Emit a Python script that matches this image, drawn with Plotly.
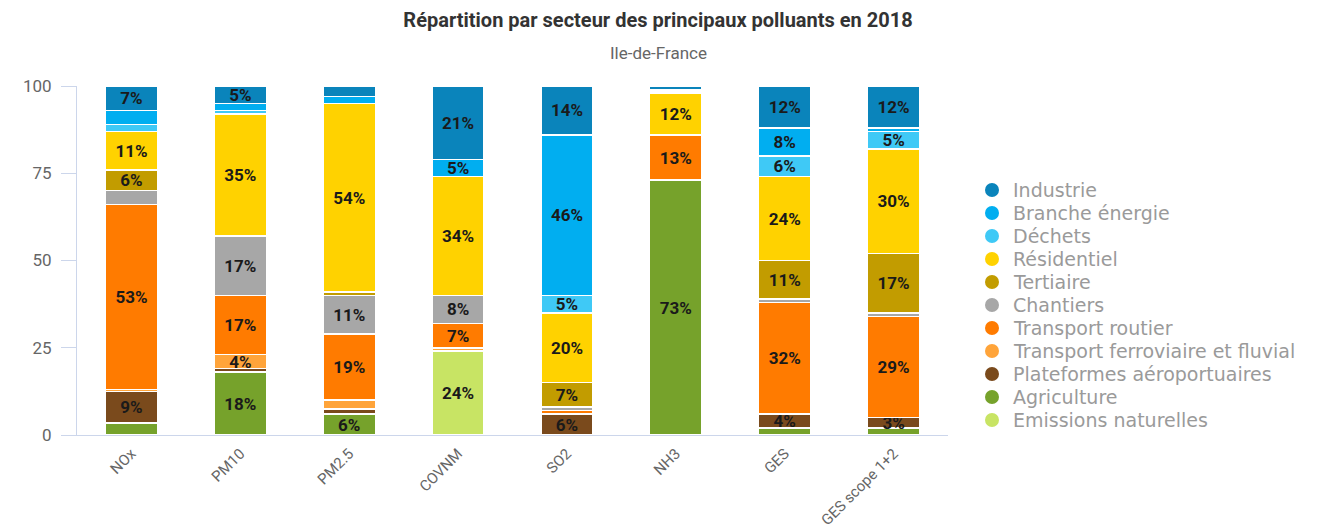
import plotly.graph_objects as go

# Pollutants (x categories)
categories = ["NOx", "PM10", "PM2.5", "COVNM", "SO2", "NH3", "GES", "GES scope 1+2"]
tick_labels = ["NOx", "PM10", "PM2.5", "COVNM", "SO2", "NH3", "GES", "GES scope 1+2"]

# Share of each sector (%), per pollutant
industrie = [7, 5, 3, 21, 14, 1, 12, 12]
branche_energie = [4, 2, 2, 5, 46, 0.5, 8, 1]
dechets = [2, 1, 0, 0, 5, 0.5, 6, 5]
residentiel = [11, 35, 54, 34, 20, 12, 24, 30]
tertiaire = [6, 0, 1, 0, 7, 0, 11, 17]
chantiers = [4, 17, 11, 8, 1, 0, 1, 1]
transport_routier = [53, 17, 19, 7, 1, 13, 32, 29]
transport_ferro = [0.5, 4, 2.5, 1, 0, 0, 0, 0]
plateformes = [9, 1, 1.5, 0, 6, 0, 4, 3]
agriculture = [3.5, 18, 6, 0, 0, 73, 2, 2]
emissions_nat = [0, 0, 0, 24, 0, 0, 0, 0]

# Which segments carry a percentage label (1 = shown)
lbl_industrie = [1, 1, 0, 1, 1, 0, 1, 1]
lbl_branche = [0, 0, 0, 1, 1, 0, 1, 0]
lbl_dechets = [0, 0, 0, 0, 1, 0, 1, 1]
lbl_residentiel = [1, 1, 1, 1, 1, 1, 1, 1]
lbl_tertiaire = [1, 0, 0, 0, 1, 0, 1, 1]
lbl_chantiers = [0, 1, 1, 1, 0, 0, 0, 0]
lbl_routier = [1, 1, 1, 1, 0, 1, 1, 1]
lbl_ferro = [0, 1, 0, 0, 0, 0, 0, 0]
lbl_plateformes = [1, 0, 0, 0, 1, 0, 1, 1]
lbl_agriculture = [0, 1, 1, 0, 0, 1, 0, 0]
lbl_emissions = [0, 0, 0, 1, 0, 0, 0, 0]

# Legend order (top to bottom): name, values, colour, label flags
sectors = [
    ("Industrie", industrie, "#0a84bb", lbl_industrie),
    ("Branche énergie", branche_energie, "#01aef0", lbl_branche),
    ("Déchets", dechets, "#3fc9f6", lbl_dechets),
    ("Résidentiel", residentiel, "#ffd200", lbl_residentiel),
    ("Tertiaire", tertiaire, "#c29c00", lbl_tertiaire),
    ("Chantiers", chantiers, "#a7a7a7", lbl_chantiers),
    ("Transport routier", transport_routier, "#ff7b00", lbl_routier),
    ("Transport ferroviaire et fluvial", transport_ferro, "#ffa43a", lbl_ferro),
    ("Plateformes aéroportuaires", plateformes, "#7a4a1c", lbl_plateformes),
    ("Agriculture", agriculture, "#76a22b", lbl_agriculture),
    ("Emissions naturelles", emissions_nat, "#c8e464", lbl_emissions),
]

LABEL_FONT = "Roboto"
W, H = 1328, 531
M_L, M_R, M_T, M_B = 77, 380, 86, 96
PLOT_W = W - M_L - M_R
PLOT_H = H - M_T - M_B

fig = go.Figure()

# Stacked bars: bottom of the stack is the last sector of the legend
for name, vals, color, flags in reversed(sectors):
    texts = [f"{v:g}%" if f else "" for v, f in zip(vals, flags)]
    fig.add_trace(go.Bar(
        x=categories, y=vals, name=name,
        marker=dict(color=color, line=dict(color="white", width=1.5)),
        text=texts, textposition="inside", insidetextanchor="middle",
        textangle=0,
        textfont=dict(family=LABEL_FONT, size=17, color="#1a1a1a", weight="bold"),
        showlegend=False, hoverinfo="name+y",
    ))

# Legend drawn as round swatches + labels to the right of the plot
LEG_MARK_X = 992   # swatch centre (px from left)
LEG_TEXT_X = 1011  # label left edge (px)
LEG_TOP_Y = 190    # first row centre (px from top)
LEG_STEP = 23      # row spacing (px)
LEG_R = 7          # swatch radius (px)

def px_to_paper_x(px):
    return (px - M_L) / PLOT_W

def px_to_paper_y(py):
    return (H - M_B - py) / PLOT_H

shapes = []
annotations = []
for i, (name, vals, color, flags) in enumerate(sectors):
    yp = px_to_paper_y(LEG_TOP_Y + i * LEG_STEP)
    shapes.append(dict(
        type="circle", xref="paper", yref="paper",
        xsizemode="pixel", ysizemode="pixel",
        xanchor=px_to_paper_x(LEG_MARK_X), yanchor=yp,
        x0=-LEG_R, x1=LEG_R, y0=-LEG_R, y1=LEG_R,
        fillcolor=color, line=dict(width=0),
    ))
    annotations.append(dict(
        text=name, xref="paper", yref="paper",
        x=px_to_paper_x(LEG_TEXT_X), y=yp,
        xanchor="left", yanchor="middle", showarrow=False,
        font=dict(family="DejaVu Sans", size=19, color="#9a9a9a"),
    ))

annotations.append(dict(
    text="Ile-de-France", xref="paper", yref="paper",
    x=0.668, y=1.095, xanchor="center", yanchor="middle",
    showarrow=False,
    font=dict(family=LABEL_FONT, size=17, color="#666666"),
))

fig.update_layout(
    width=W, height=H,
    barmode="stack", bargap=0.52,
    paper_bgcolor="white", plot_bgcolor="white",
    margin=dict(l=M_L, r=M_R, t=M_T, b=M_B),
    uniformtext=dict(minsize=17, mode="show"),
    showlegend=False,
    shapes=shapes, annotations=annotations,
    title=dict(
        text="Répartition par secteur des principaux polluants en 2018",
        x=0.4955, xref="container", xanchor="center",
        y=0.962, yref="container", yanchor="middle",
        font=dict(family=LABEL_FONT, size=20, color="#333333", weight="bold"),
    ),
    xaxis=dict(
        type="category", range=[-0.5, 7.5],
        tickvals=categories, ticktext=tick_labels,
        tickangle=-45, automargin=False,
        tickfont=dict(family=LABEL_FONT, size=15, color="#666666"),
        showline=True, linecolor="#ccd6eb", linewidth=1,
        ticks="", showgrid=False, ticklabelstandoff=3,
    ),
    yaxis=dict(
        range=[0, 100], tickvals=[0, 25, 50, 75, 100], automargin=False,
        tickfont=dict(family=LABEL_FONT, size=17, color="#666666"),
        showline=True, linecolor="#ccd6eb", linewidth=1,
        ticks="outside", ticklen=15, tickcolor="#ccd6eb",
        showgrid=False, zeroline=False,
        ticklabelstandoff=6,
    ),
)

fig.write_html("out.html")
